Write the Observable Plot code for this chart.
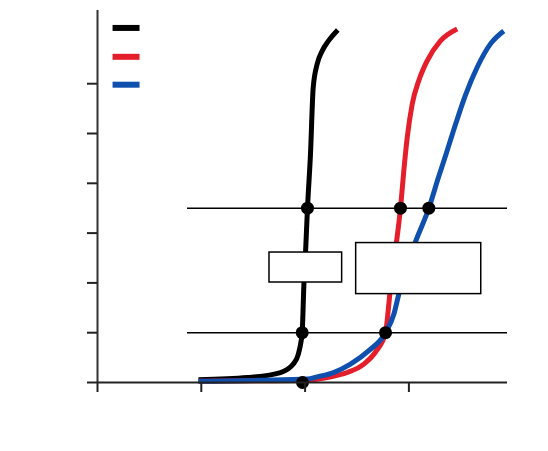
<!DOCTYPE html>
<html><head><meta charset="utf-8">
<script src="https://cdn.jsdelivr.net/npm/d3@7"></script>
<script src="https://cdn.jsdelivr.net/npm/@observablehq/plot@0.6"></script>
<style>html,body{margin:0;padding:0;background:#fff}</style>
</head><body><div id="chart"></div>
<script>
// Series (names not shown in the picture)
const seriesNames = ["Series 1", "Series 2", "Series 3"];
const seriesColors = ["#000000", "#e41e2b", "#0f4fae"];

// Curve values
const blackX = [0.973, 1.445, 1.763, 1.888, 1.936, 1.962, 1.972, 1.989, 2.004, 2.023, 2.052, 2.078, 2.117, 2.165, 2.225, 2.315];
const blackY = [0.054, 0.10, 0.20, 0.375, 0.576, 0.837, 1.0, 2.0, 2.6, 3.5, 4.59, 5.92, 6.40, 6.66, 6.86, 7.08];
const redX = [0.973, 1.570, 2.023, 2.213, 2.406, 2.566, 2.688, 2.775, 2.797, 2.816, 2.876, 2.919, 2.951, 2.984, 3.032, 3.095, 3.176, 3.304, 3.465];
const redY = [0.024, 0.034, 0.044, 0.10, 0.20, 0.37, 0.64, 1.0, 1.37, 1.775, 2.745, 3.5, 4.25, 4.92, 5.59, 6.06, 6.46, 6.86, 7.10];
const blueX = [0.973, 1.570, 2.023, 2.117, 2.274, 2.437, 2.614, 2.775, 2.855, 2.903, 3.05, 3.192, 3.285, 3.36, 3.455, 3.545, 3.658, 3.786, 3.914];
const blueY = [0.024, 0.044, 0.07, 0.114, 0.20, 0.37, 0.64, 1.0, 1.37, 1.775, 2.75, 3.5, 4.12, 4.6, 5.22, 5.77, 6.33, 6.80, 7.06];

// Reference levels and marked points
const levelY = [1, 3.5];
const levelX1 = 0.867;
const pointX = [2.023, 1.972, 1.975, 2.919, 3.192, 2.775];
const pointY = [3.5, 1, 0, 3.5, 3.5, 1];

// Empty label boxes
const boxX1 = [1.657, 2.492];
const boxX2 = [2.357, 3.697];
const boxY1 = [2.008, 1.775];
const boxY2 = [2.61, 2.80];

// Axis ticks (labels absent)
const xTicks = [0, 1, 2, 3];
const yTicks = [0, 1, 2, 3, 4, 5, 6];
const xMax = 3.95;
const yMax = 7.47;

// Legend swatches
const legendX1 = 0.145, legendX2 = 0.405;
const legendY = [7.12, 6.54, 5.98];

const curves = [];
[[blackX, blackY], [redX, redY], [blueX, blueY]].forEach(([xs, ys], i) => {
  xs.forEach((x, j) => curves.push({series: seriesNames[i], x, y: ys[j]}));
});
const points = pointX.map((x, i) => ({x, y: pointY[i]}));
const boxes = boxX1.map((x1, i) => ({x1, x2: boxX2[i], y1: boxY1[i], y2: boxY2[i]}));
const legend = seriesNames.map((s, i) => ({series: s, x1: legendX1, x2: legendX2, y: legendY[i]}));
const color = d3.scaleOrdinal(seriesNames, seriesColors);

const chart = Plot.plot({
  width: 548,
  height: 451,
  marginLeft: 97,
  marginRight: 41,
  marginTop: 10,
  marginBottom: 69,
  x: {domain: [0, xMax]},
  y: {domain: [0, yMax]},
  style: {background: "#fff"},
  marks: [
    Plot.ruleY(levelY, {x1: levelX1, x2: xMax, stroke: "#000", strokeWidth: 1.5}),
    ...seriesNames.map(s => Plot.line(curves.filter(d => d.series === s), {
      x: "x", y: "y", stroke: color(s), strokeWidth: 5, curve: "monotone-x", strokeLinecap: "butt"
    })),
    Plot.rect(boxes, {x1: "x1", x2: "x2", y1: "y1", y2: "y2", fill: "#fff", stroke: "#000", strokeWidth: 1.5}),
    Plot.dot(points, {x: "x", y: "y", r: 6.5, fill: "#000"}),
    Plot.link(legend, {x1: "x1", x2: "x2", y1: "y", y2: "y", stroke: d => color(d.series), strokeWidth: 6, strokeLinecap: "butt"}),
    Plot.ruleX([0], {y1: 0, y2: yMax, stroke: "#333", strokeWidth: 2}),
    Plot.ruleY([0], {x1: 0, x2: xMax, stroke: "#222", strokeWidth: 2}),
    Plot.axisY({ticks: yTicks, tickSize: 10, tickFormat: () => "", stroke: "#222", strokeWidth: 2}),
    Plot.axisX({ticks: xTicks, tickSize: 10, tickFormat: () => "", stroke: "#222", strokeWidth: 2})
  ]
});
document.getElementById("chart").append(chart);
</script>
</body></html>
